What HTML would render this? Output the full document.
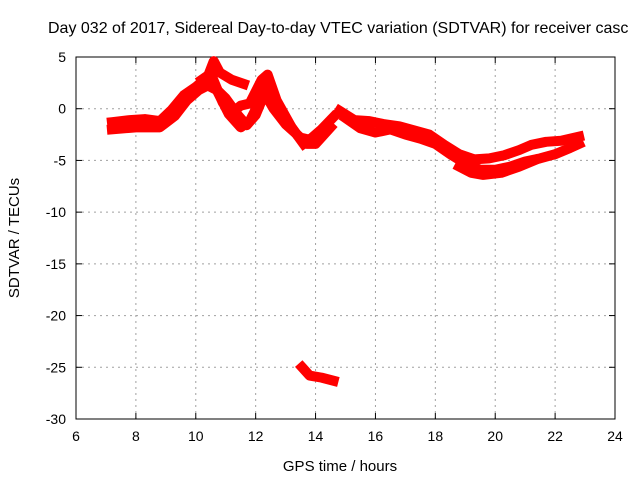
<!DOCTYPE html>
<html><head><meta charset="utf-8"><style>body{margin:0;background:#fff}svg{display:block;font-family:"Liberation Sans",sans-serif}</style></head>
<body>
<svg id="c" width="640" height="480"></svg>
<script>
const xTicks=[6,8,10,12,14,16,18,20,22,24];
const yTicks=[5,0,-5,-10,-15,-20,-25,-30];
const s1=[[7.2,-1.3],[7.8,-1.1],[8.3,-1.0],[8.8,-1.2],[9.2,-0.1],[9.6,1.3],[10.0,2.1],[10.4,3.1],[10.6,4.6],[10.8,3.5],[11.2,2.8],[11.6,2.4]];
const s2=[[7.2,-2.0],[8,-1.8],[8.8,-1.8],[9.3,-0.7],[9.7,0.8],[10.1,1.8],[10.5,2.4],[11.0,1.0],[11.4,-0.6],[11.7,-1.6],[12.0,-0.6],[12.3,1.5],[12.6,0.0],[13.0,-1.5],[13.5,-2.8],[13.8,-3.0],[14.2,-2.0],[14.6,-0.8]];
const s3=[[9.8,1.5],[10.3,2.4],[10.7,1.8],[11.1,-0.5],[11.5,-1.8],[11.8,-1.2],[12.1,0.5],[12.3,2.2],[12.6,1.0],[13.0,-1.0],[13.4,-2.6],[13.7,-3.4],[14.0,-3.4],[14.5,-1.8]];
const s4=[[10.2,2.8],[10.5,3.4],[10.9,0.6],[11.2,-0.4],[11.5,0.3],[11.8,0.5],[12.2,2.8],[12.4,3.3],[12.7,0.8],[13.2,-1.8],[13.6,-3.4]];
const s5=[[14.8,-0.2],[15.3,-1.1],[15.8,-1.2],[16.3,-1.5],[16.8,-1.7],[17.3,-2.1],[17.8,-2.5],[18.3,-3.5],[18.8,-4.4],[19.3,-4.9],[19.8,-4.8],[20.3,-4.5],[20.8,-4.0],[21.2,-3.5],[21.7,-3.2],[22.2,-3.1],[22.8,-2.7]];
const s6=[[15.0,-0.9],[15.5,-1.9],[16.0,-2.3],[16.5,-2.0],[17.0,-2.5],[17.5,-2.9],[18.0,-3.4],[18.5,-4.4],[19.0,-5.3],[19.5,-5.9],[20.0,-5.9],[20.5,-5.6],[21.0,-5.1],[21.5,-4.8],[22.0,-4.4],[22.5,-3.8],[22.8,-3.4]];
const s7=[[18.8,-5.6],[19.2,-6.2],[19.6,-6.4],[20.2,-6.2],[20.8,-5.6],[21.3,-5.0]];
const s8=[[13.55,-25],[13.8,-25.8],[14.2,-26.0],[14.6,-26.3]];
const series=[s1,s2,s3,s4,s5,s6,s7,s8];
const L=76,R=615,T=57,B=419;
const X=h=>L+(h-6)*(R-L)/18, Y=v=>T+(5-v)*(B-T)/35;
const svg=document.getElementById('c');const NS='http://www.w3.org/2000/svg';
function mk(t,a,p){const e=document.createElementNS(NS,t);for(const k in a)e.setAttribute(k,a[k]);(p||svg).appendChild(e);return e;}
xTicks.forEach(h=>{const x=X(h);
 if(h>6&&h<24){const g=mk('line',{x1:x,y1:T,x2:x,y2:B,stroke:'#a0a0a0','stroke-dasharray':'2,4'});
 
 }
 mk('line',{x1:x,y1:B,x2:x,y2:B-6,stroke:'#000'});mk('line',{x1:x,y1:T,x2:x,y2:T+6,stroke:'#000'});
 const t=mk('text',{x:x,y:B+22,'text-anchor':'middle','font-size':14});t.textContent=h;
 
 });
yTicks.forEach(v=>{const y=Y(v);
 if(v<5&&v>-30){const g=mk('line',{x1:L,y1:y,x2:R,y2:y,stroke:'#a0a0a0','stroke-dasharray':'2,4'});
 
 }
 mk('line',{x1:L,y1:y,x2:L+6,y2:y,stroke:'#000'});mk('line',{x1:R,y1:y,x2:R-6,y2:y,stroke:'#000'});
 const t=mk('text',{x:L-10,y:y+5,'text-anchor':'end','font-size':14});t.textContent=v;
 
 });
const fr=mk('rect',{x:L,y:T,width:R-L,height:B-T,fill:'none',stroke:'#000'});


series.forEach((s,i)=>{const p=mk('polyline',{points:s.map(d=>X(d[0])+','+Y(d[1])).join(' '),fill:'none',stroke:'#ff0000','stroke-width':10,'stroke-linejoin':'round','stroke-linecap':'square'});
 
 });
const ti=mk('text',{x:48,y:33,'font-size':16});ti.textContent='Day 032 of 2017, Sidereal Day-to-day VTEC variation (SDTVAR) for receiver casc';


const xl=mk('text',{x:340,y:471,'text-anchor':'middle','font-size':15});xl.textContent='GPS time / hours';


const yl=mk('text',{x:0,y:0,'text-anchor':'middle','font-size':15,transform:'translate(19,238) rotate(-90)'});yl.textContent='SDTVAR / TECUs';


</script>
</body></html>
